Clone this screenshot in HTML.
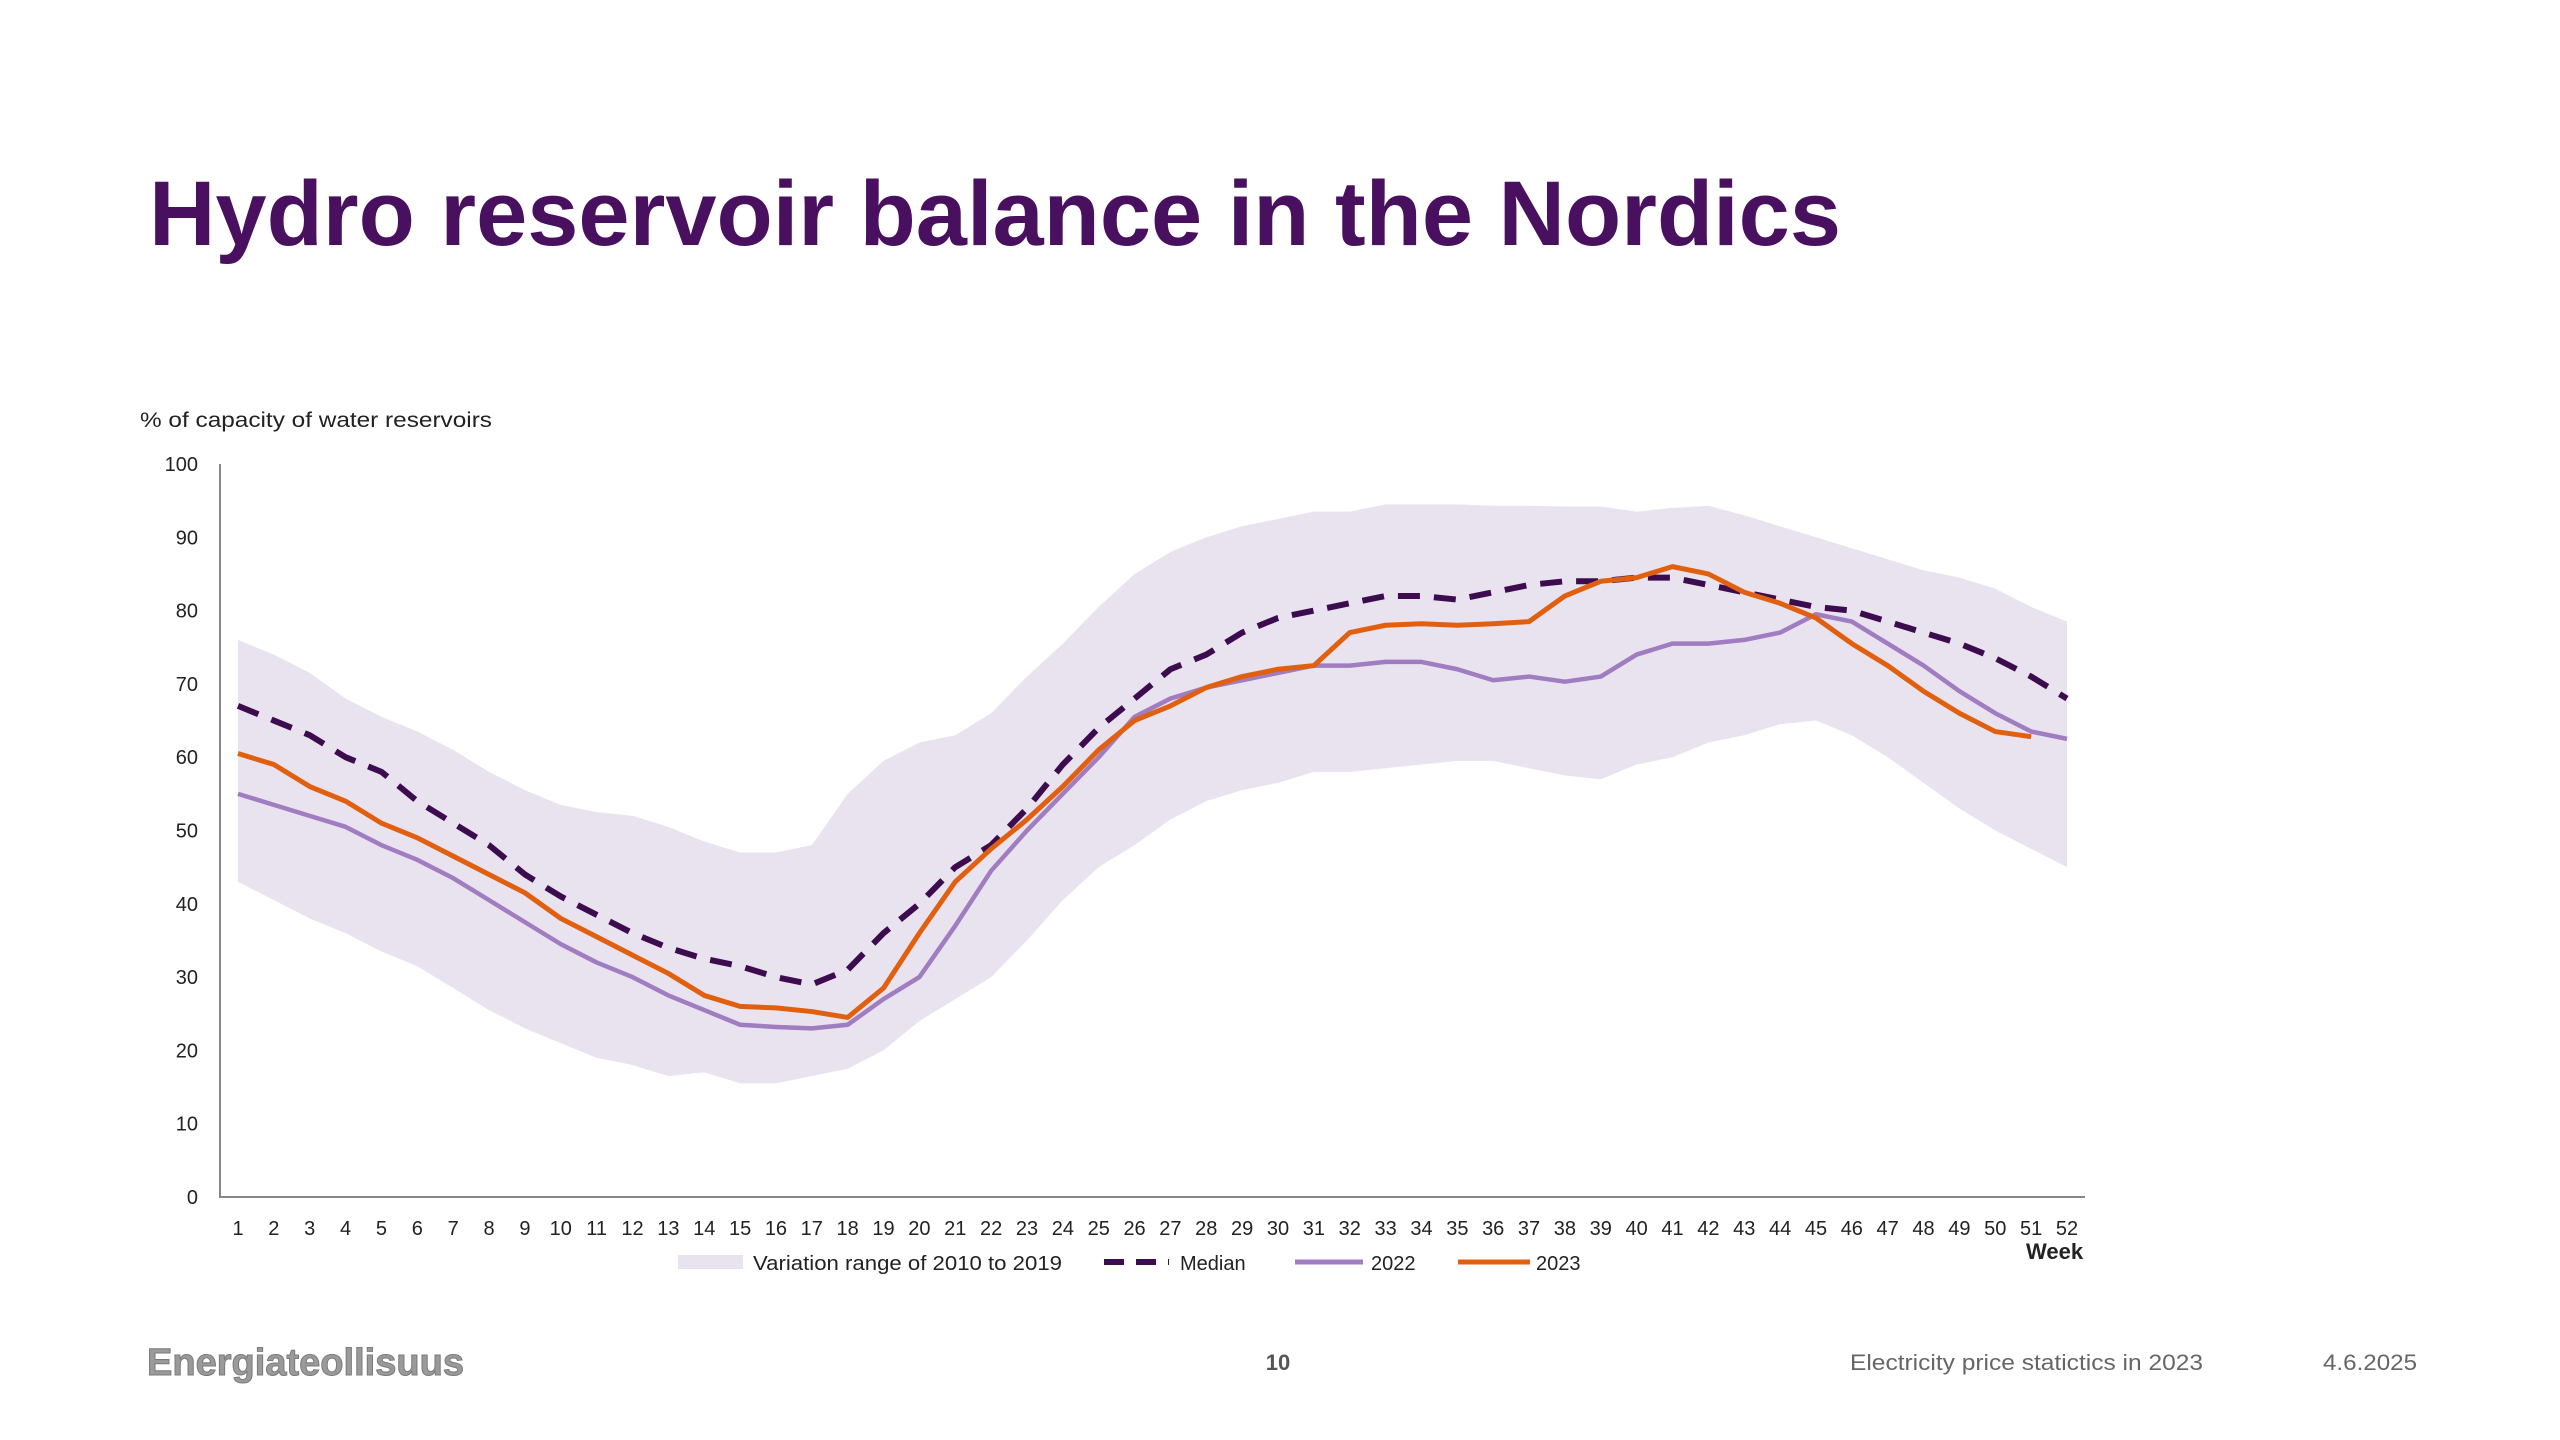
<!DOCTYPE html>
<html><head><meta charset="utf-8"><style>
html,body{margin:0;padding:0;background:#fff;}
svg{display:block;font-family:"Liberation Sans",sans-serif;}
</style></head><body>
<svg id="chart" width="2560" height="1440" viewBox="0 0 2560 1440" xmlns="http://www.w3.org/2000/svg">
<text x="149" y="245" font-size="92" font-weight="bold" fill="#4a1060" textLength="1692" lengthAdjust="spacingAndGlyphs">Hydro reservoir balance in the Nordics</text>
<text x="140" y="427" font-size="21" fill="#222" textLength="352" lengthAdjust="spacingAndGlyphs">% of capacity of water reservoirs</text>
<g id="plot"></g>
<g id="legend">
<rect x="678" y="1255" width="65" height="14" fill="#e9e3ef"/>
<text x="753" y="1270" font-size="20" fill="#222" textLength="309" lengthAdjust="spacingAndGlyphs">Variation range of 2010 to 2019</text>
<line x1="1104" y1="1262" x2="1169" y2="1262" stroke="#3d0c4e" stroke-width="6" stroke-dasharray="20,12"/>
<text x="1180" y="1270" font-size="20" fill="#222">Median</text>
<line x1="1295" y1="1262" x2="1363" y2="1262" stroke="#a07cc0" stroke-width="5"/>
<text x="1371" y="1270" font-size="20" fill="#222">2022</text>
<line x1="1458" y1="1262" x2="1530" y2="1262" stroke="#e0600f" stroke-width="5"/>
<text x="1536" y="1270" font-size="20" fill="#222">2023</text>
</g>
<text x="2026" y="1259" font-size="22" font-weight="bold" fill="#222">Week</text>
<text x="147" y="1375" font-size="38" font-weight="bold" fill="#9a9a9a" stroke="#7a7a7a" stroke-width="1" textLength="317" lengthAdjust="spacingAndGlyphs">Energiateollisuus</text>
<text x="1278" y="1370" font-size="22" font-weight="bold" fill="#555" text-anchor="middle">10</text>
<text x="1850" y="1370" font-size="22" fill="#666" textLength="353" lengthAdjust="spacingAndGlyphs">Electricity price statictics in 2023</text>
<text x="2323" y="1370" font-size="22" fill="#666" textLength="94" lengthAdjust="spacingAndGlyphs">4.6.2025</text>
</svg>
<script>
const weeks = Array.from({length:52},(_,i)=>i+1);
const yTicks = [0,10,20,30,40,50,60,70,80,90,100];
const rangeUpper = [76,74,71.5,68,65.5,63.5,61,58,55.5,53.5,52.5,52,50.5,48.5,47,47,48,55,59.5,62,63,66,71,75.5,80.5,85,88,90,91.5,92.5,93.5,93.5,94.5,94.5,94.5,94.3,94.3,94.2,94.2,93.5,94,94.3,93,91.5,90,88.5,87,85.5,84.5,83,80.5,78.5];
const rangeLower = [43,40.5,38,36,33.5,31.5,28.5,25.5,23,21,19,18,16.5,17,15.5,15.5,16.5,17.5,20,24,27,30,35,40.5,45,48,51.5,54,55.5,56.5,58,58,58.5,59,59.5,59.5,58.5,57.5,57,59,60,62,63,64.5,65,63,60,56.5,53,50,47.5,45];
const median = [67,65,63,60,58,54,51,48,44,41,38.5,36,34,32.5,31.5,30,29,31,36,40,45,48,53,59,64,68,72,74,77,79,80,81,82,82,81.5,82.5,83.5,84,84,84.5,84.5,83.5,82.5,81.5,80.5,80,78.5,77,75.5,73.5,71,68];
const y2022 = [55,53.5,52,50.5,48,46,43.5,40.5,37.5,34.5,32,30,27.5,25.5,23.5,23.2,23,23.5,27,30,37,44.5,50,55,60,65.5,68,69.5,70.5,71.5,72.5,72.5,73,73,72,70.5,71,70.3,71,74,75.5,75.5,76,77,79.5,78.5,75.5,72.5,69,66,63.5,62.5];
const y2023 = [60.5,59,56,54,51,49,46.5,44,41.5,38,35.5,33,30.5,27.5,26,25.8,25.3,24.5,28.5,36,43,47.5,51.5,56,61,65,67,69.5,71,72,72.5,77,78,78.2,78,78.2,78.5,82,84,84.5,86,85,82.5,81,79,75.5,72.5,69,66,63.5,62.8];

const NS='http://www.w3.org/2000/svg';
const L=220,R=2085,T=464,B=1197;
const xs=w=>238+(w-1)*(2067-238)/51;
const ys=v=>B-(v/100)*(B-T);
const g=document.getElementById('plot');
function mk(tag,attrs){const e=document.createElementNS(NS,tag);for(const k in attrs)e.setAttribute(k,attrs[k]);g.appendChild(e);return e;}

let d='';
rangeUpper.forEach((v,i)=>{d+=(i?'L':'M')+xs(weeks[i])+','+ys(v);});
for(let i=rangeLower.length-1;i>=0;i--)d+='L'+xs(weeks[i])+','+ys(rangeLower[i]);
const band=mk('path',{d:d+'Z',fill:'#e9e3ef'});



function line(arr,attrs,name){
  const p=arr.map((v,i)=>xs(weeks[i])+','+ys(v)).join(' ');
  const e=mk('polyline',Object.assign({points:p,fill:'none','stroke-linejoin':'round'},attrs));
  
  
}
line(median,{stroke:'#3d0c4e','stroke-width':6,'stroke-dasharray':'22,14'},'median-line');
line(y2022,{stroke:'#a07cc0','stroke-width':4.5},'line-2022');
line(y2023,{stroke:'#e0600f','stroke-width':5},'line-2023');

const ax=mk('path',{d:`M${L},${T}V${B}H${R}`,fill:'none',stroke:'#888','stroke-width':2});



yTicks.forEach(t=>{
  const e=mk('text',{x:198,y:ys(t)+7,'font-size':20,fill:'#222','text-anchor':'end'});
  e.textContent=t;
  
  
});
weeks.forEach(w=>{
  const e=mk('text',{x:xs(w),y:1235,'font-size':20,fill:'#222','text-anchor':'middle'});
  e.textContent=w;
  
  
});
</script>
</body></html>
